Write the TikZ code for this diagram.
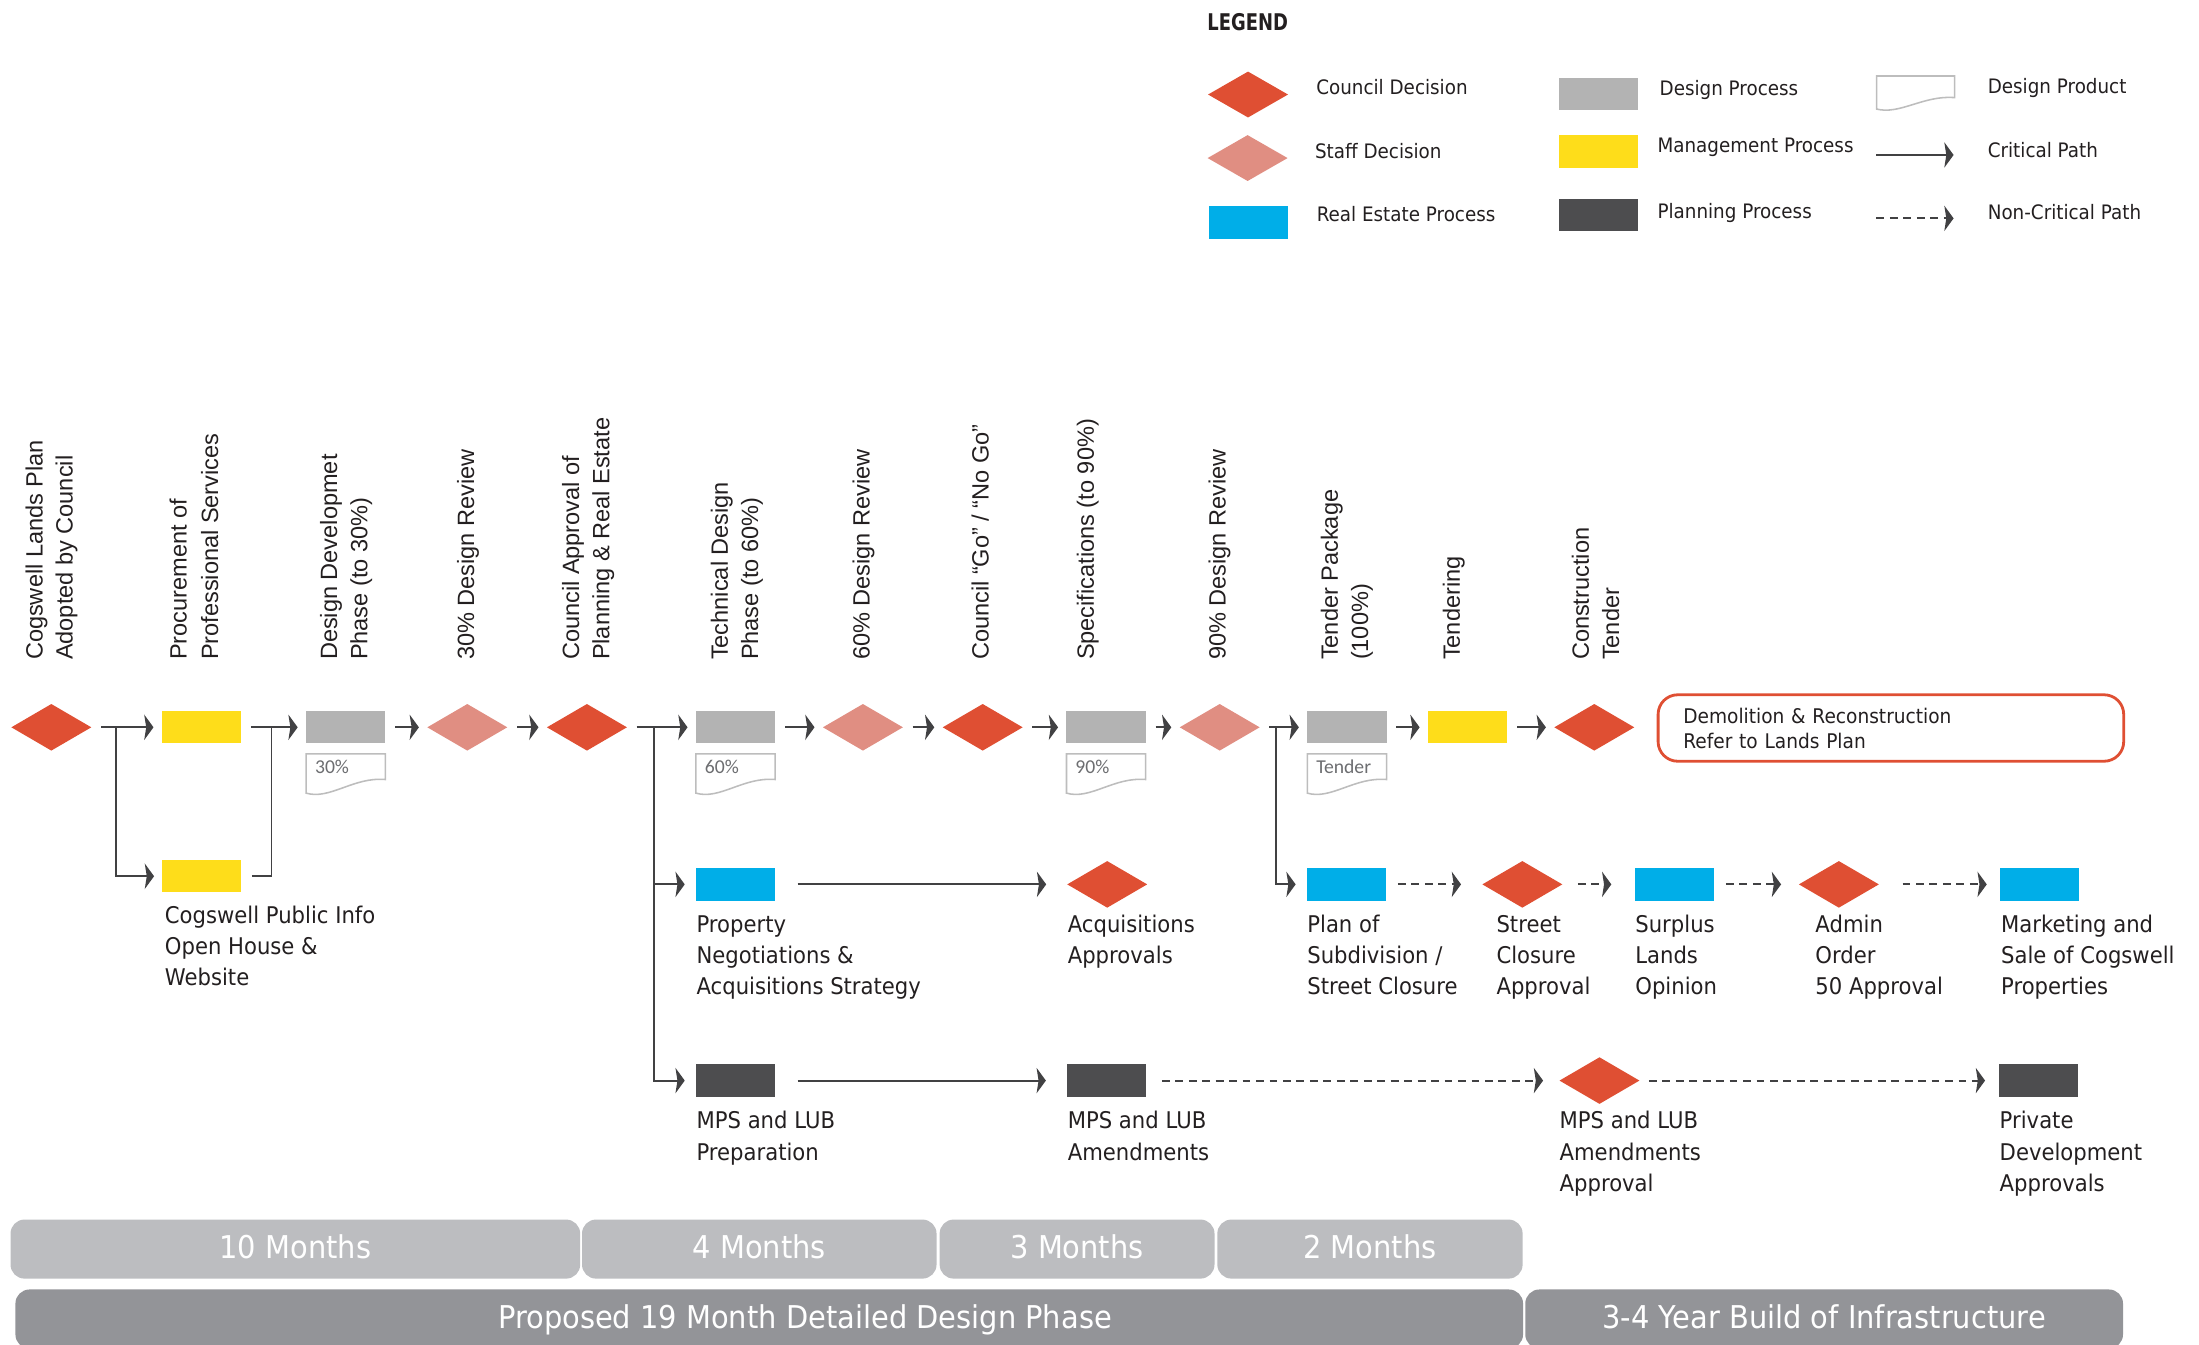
\documentclass[tikz,border=0pt]{standalone}
\usepackage{fontspec}
\setmainfont{Liberation Sans}
\newfontfamily\eurofont{DejaVu Sans}[FakeStretch=0.92]
\newfontfamily\legboldfont{DejaVu Sans}[FakeStretch=0.78]
\newfontfamily\docfont{Carlito}
\usetikzlibrary{shapes.geometric,arrows.meta,calc}
\definecolor{council}{HTML}{DF4F33}
\definecolor{staff}{HTML}{E08E82}
\definecolor{mgmt}{HTML}{FEDD1A}
\definecolor{design}{HTML}{B3B3B3}
\definecolor{realest}{HTML}{00AEE8}
\definecolor{planning}{HTML}{4D4D4F}
\definecolor{linec}{HTML}{414143}
\definecolor{doclinec}{HTML}{BDBDBD}
\definecolor{doctextc}{HTML}{6D6E71}
\definecolor{barlight}{HTML}{BCBDC0}
\definecolor{bardark}{HTML}{939498}
\definecolor{txt}{HTML}{231F20}
\tikzset{
 proc/.style={rectangle, minimum width=28.25pt, minimum height=11.5pt, inner sep=0pt, outer sep=0pt, draw=none},
 designbox/.style={proc, fill=design},
 mgmtbox/.style={proc, fill=mgmt},
 realbox/.style={proc, fill=realest},
 planbox/.style={proc, fill=planning},
 dec/.style={diamond, minimum width=28.5pt, minimum height=16.6pt, inner sep=0pt, outer sep=0pt, draw=none},
 councildec/.style={dec, fill=council},
 staffdec/.style={dec, fill=staff},
 conn/.style={draw=linec, line width=0.7pt},
 arr/.style={conn, -{Stealth[length=3.3pt,width=9pt,inset=0.7pt]}},
 dasharr/.style={arr, dash pattern=on 2.8pt off 2pt},
 gapped/.style={shorten <=3.5pt, shorten >=3pt},
 rotlab/.style={rotate=90, anchor=base west, inner sep=0pt, font=\fontsize{8.4}{10}\selectfont, text=txt},
 lab/.style={anchor=north west, inner sep=0pt, align=left, font=\eurofont\fontsize{8.2}{11.15}\selectfont, text=txt},
 leglab/.style={anchor=base west, inner sep=0pt, font=\eurofont\fontsize{7.1}{8}\selectfont, text=txt},
 docnode/.style={rectangle, minimum width=28.25pt, minimum height=14.7pt, inner sep=0pt, outer sep=0pt},
 doclab/.style={anchor=west, inner sep=0pt, font=\docfont\fontsize{7}{8}\selectfont, text=doctextc},
 doclinestyle/.style={draw=doclinec, line width=0.55pt, fill=white},
 bar/.style={rectangle, rounded corners=5pt, inner sep=0pt, minimum height=21.05pt, text=white, text height=6.6pt, text depth=0pt, font=\eurofont\fontsize{11.2}{13}\selectfont},
 lightbar/.style={bar, fill=barlight},
 darkbar/.style={bar, fill=bardark},
}
\newcommand\docoutline[3]{%
 \draw[doclinestyle] (#1.north west) -- (#1.north east) -- ([shift={(0,0.62*#3)}]#1.north east)
  .. controls ([shift={(-0.4*#2,0.55*#3)}]#1.north east) and ([shift={(0.3*#2,1.12*#3)}]#1.north west)
  .. ([shift={(0,0.95*#3)}]#1.north west) -- cycle;}
\begin{document}
\begin{tikzpicture}[x=0.5pt,y=-0.5pt]
\useasboundingbox (0,0) rectangle (1568,959);
\clip (0,0) rectangle (1568,959);

% ---------- Legend ----------
\node[anchor=base west, inner sep=0pt, font=\legboldfont\bfseries\fontsize{8.2}{10}\selectfont, text=txt] (legend) at (860.5,21.4) {LEGEND};
\node[councildec, minimum height=16.35pt] (lgc) at (889.9,67.4) {};
\node[staffdec, minimum height=16.35pt] (lgs) at (889.6,112.7) {};
\node[realbox, minimum height=11.6pt] (lgr) at (890.2,158.6) {};
\node[designbox] (lgd) at (1139.8,66.8) {};
\node[mgmtbox] (lgm) at (1139.8,108) {};
\node[planbox] (lgp) at (1139.8,153.5) {};
\node[docnode, minimum width=27.85pt, minimum height=12.4pt] (lgdoc) at (1365.9,66.6) {};
\docoutline{lgdoc}{55.7}{24.8}
\coordinate (lca) at (1338,110.5);
\coordinate (lcb) at (1393,110.5);
\draw[arr] (lca) -- (lcb);
\coordinate (lna) at (1338,155.7);
\coordinate (lnb) at (1393,155.7);
\draw[dasharr] (lna) -- (lnb);
\node[leglab] (lgct) at (938.2,67.3) {Council Decision};
\node[leglab] (lgst) at (937.3,112.9) {Staff Decision};
\node[leglab] (lgrt) at (938.5,158) {Real Estate Process};
\node[leglab] (lgdt) at (1183,68.2) {Design Process};
\node[leglab] (lgmt) at (1181.5,109) {Management Process};
\node[leglab] (lgpt) at (1181.5,155.6) {Planning Process};
\node[leglab] (lgdoct) at (1417,66.6) {Design Product};
\node[leglab] (lgcpt) at (1417,112.4) {Critical Path};
\node[leglab] (lgnpt) at (1417,156.4) {Non-Critical Path};

% ---------- Rotated step titles ----------
\node[rotlab] (t1a) at (30.4,471) {Cogswell Lands Plan};
\node[rotlab] (t1b) at (51.8,471) {Adopted by Council};
\node[rotlab] (t2a) at (133,471) {Procurement of};
\node[rotlab] (t2b) at (155.5,471) {Professional Services};
\node[rotlab] (t3a) at (240.3,471) {Design Developmet};
\node[rotlab] (t3b) at (262,471) {Phase (to 30\%)};
\node[rotlab] (t4) at (338,471) {30\% Design Review};
\node[rotlab] (t5a) at (413,471) {Council Approval of};
\node[rotlab] (t5b) at (434.5,471) {Planning \& Real Estate};
\node[rotlab] (t6a) at (519,471) {Technical Design};
\node[rotlab] (t6b) at (540.5,471) {Phase (to 60\%)};
\node[rotlab] (t7) at (620,471) {60\% Design Review};
\node[rotlab] (t8) at (705,471) {Council “Go” / “No Go”};
\node[rotlab] (t9) at (780,471) {Specifications (to 90\%)};
\node[rotlab] (t10) at (874,471) {90\% Design Review};
\node[rotlab] (t11a) at (954,471) {Tender Package};
\node[rotlab] (t11b) at (975.5,471) {(100\%)};
\node[rotlab] (t12) at (1041,471) {Tendering};
\node[rotlab] (t13a) at (1133,471) {Construction};
\node[rotlab] (t13b) at (1154.5,471) {Tender};

% ---------- Main row ----------
\node[councildec] (m1) at (36.6,518.6) {};
\node[mgmtbox] (m2) at (143.7,518.6) {};
\node[designbox] (m3) at (246.5,518.6) {};
\node[staffdec] (m4) at (333.2,518.6) {};
\node[councildec] (m5) at (418.5,518.6) {};
\node[designbox] (m6) at (524.5,518.6) {};
\node[staffdec] (m7) at (615.3,518.6) {};
\node[councildec] (m8) at (700.7,518.6) {};
\node[designbox] (m9) at (788.7,518.6) {};
\node[staffdec] (m10) at (869.7,518.6) {};
\node[designbox] (m11) at (960.4,518.6) {};
\node[mgmtbox] (m12) at (1046.5,518.6) {};
\node[councildec] (m13) at (1136.8,518.6) {};
\node[draw=council, line width=1pt, rounded corners=7pt, minimum width=166pt, minimum height=23.7pt,
      text width=148pt, inner xsep=9pt, inner ysep=0pt, align=left,
      font=\eurofont\fontsize{7.2}{8.9}\selectfont, text=txt] (demo) at (1348.3,519.1)
      {Demolition \& Reconstruction\\Refer to Lands Plan};

% design products
\node[docnode] (d3) at (246.5,552.3) {};
\node[docnode] (d6) at (524.5,552.3) {};
\node[docnode] (d9) at (788.7,552.3) {};
\node[docnode] (d11) at (960.4,552.3) {};
\docoutline{d3}{56.5}{29.4}
\docoutline{d6}{56.5}{29.4}
\docoutline{d9}{56.5}{29.4}
\docoutline{d11}{56.5}{29.4}
\node[doclab] (d3t) at ([xshift=3pt,yshift=-4.7pt]d3.north west) {30\%};
\node[doclab] (d6t) at ([xshift=3pt,yshift=-4.7pt]d6.north west) {60\%};
\node[doclab] (d9t) at ([xshift=3pt,yshift=-4.7pt]d9.north west) {90\%};
\node[doclab] (d11t) at ([xshift=3pt,yshift=-4.7pt]d11.north west) {Tender};

% main connectors
\draw[arr, gapped] (m1) -- (m2);
\draw[arr, gapped] (m2) -- (m3);
\draw[arr, gapped] (m3) -- (m4);
\draw[arr, gapped] (m4) -- (m5);
\draw[arr, gapped] (m5) -- (m6);
\draw[arr, gapped] (m6) -- (m7);
\draw[arr, gapped] (m7) -- (m8);
\draw[arr, gapped] (m8) -- (m9);
\draw[arr, gapped] (m9) -- (m10);
\draw[arr, gapped] (m10) -- (m11);
\draw[arr, gapped] (m11) -- (m12);
\draw[arr, gapped] (m12) -- (m13);

% ---------- Branches ----------
\coordinate (b1) at (82.5,518.6);
\coordinate (b2) at (193.6,518.6);
\coordinate (b3) at (466.2,518.6);
\coordinate (b4) at (909.5,518.6);

\node[mgmtbox] (y2) at (143.7,624.8) {};
\draw[arr, shorten >=2.8pt] (b1) |- (y2);
\draw[conn, shorten <=3.8pt] (y2) -| (b2);
\node[lab] (y2l) at (117.2,644) {\rule{0pt}{7pt}Cogswell Public Info\\Open House \&\\Website};

% Row 2
\node[realbox] (r1) at (524.5,630.6) {};
\node[councildec] (a1) at (789.5,630.6) {};
\node[realbox] (r2) at (960.1,630.6) {};
\node[councildec] (a2) at (1085.5,630.6) {};
\node[realbox] (r3) at (1194,630.6) {};
\node[councildec] (a4) at (1311.2,630.6) {};
\node[realbox] (r4) at (1454.3,630.6) {};

% Row 3
\node[planbox] (p1) at (524.5,770.5) {};
\node[planbox] (p2) at (789,770.5) {};
\node[councildec] (a3) at (1140.5,770.5) {};
\node[planbox] (p3) at (1453.5,770.5) {};

\draw[arr, shorten >=4pt] (b3) |- (r1);
\draw[arr, shorten >=4pt] (b3) |- (p1);
\draw[arr, shorten >=4pt] (b4) |- (r2);

\draw[arr, shorten <=8pt, shorten >=7.5pt] (r1) -- (a1);
\draw[arr, shorten <=8pt, shorten >=7.5pt] (p1) -- (p2);
\draw[dasharr, shorten <=5.6pt, shorten >=5.85pt] (p2) -- (a3);
\draw[dasharr, shorten <=3.35pt, shorten >=4.9pt] (a3) -- (p3);
\draw[dasharr, shorten <=4.2pt, shorten >=7.6pt] (r2) -- (a2);
\draw[dasharr, shorten <=5.5pt, shorten >=8.4pt] (a2) -- (r3);
\draw[dasharr, shorten <=4.2pt, shorten >=6.35pt] (r3) -- (a4);
\draw[dasharr, shorten <=8.45pt, shorten >=4.7pt] (a4) -- (r4);

% labels
\node[lab] (r1l) at (496.3,650.3) {\rule{0pt}{7pt}Property\\Negotiations \&\\Acquisitions Strategy};
\node[lab] (a1l) at (761,650.3) {\rule{0pt}{7pt}Acquisitions\\Approvals};
\node[lab] (r2l) at (931.8,650.3) {\rule{0pt}{7pt}Plan of\\Subdivision /\\Street Closure};
\node[lab] (a2l) at (1066.7,650.3) {\rule{0pt}{7pt}Street\\Closure\\Approval};
\node[lab] (r3l) at (1165.7,650.3) {\rule{0pt}{7pt}Surplus\\Lands\\Opinion};
\node[lab] (a4l) at (1294.1,650.3) {\rule{0pt}{7pt}Admin\\Order\\50 Approval};
\node[lab] (r4l) at (1426.5,650.3) {\rule{0pt}{7pt}Marketing and\\Sale of Cogswell\\Properties};
\node[lab] (p1l) at (496.3,790.6) {\rule{0pt}{7pt}MPS and LUB\\Preparation};
\node[lab] (p2l) at (761,790.6) {\rule{0pt}{7pt}MPS and LUB\\Amendments};
\node[lab] (a3l) at (1111.7,790.6) {\rule{0pt}{7pt}MPS and LUB\\Amendments\\Approval};
\node[lab] (p3l) at (1425.5,790.6) {\rule{0pt}{7pt}Private\\Development\\Approvals};

% ---------- Time bars ----------
\node[lightbar, minimum width=203.1pt] (bar10) at (210.6,890.65) {10 Months};
\node[lightbar, minimum width=126.4pt] (bar4) at (541.4,890.65) {4 Months};
\node[lightbar, minimum width=98pt] (bar3) at (768,890.65) {3 Months};
\node[lightbar, minimum width=108.85pt] (bar2) at (976.85,890.65) {2 Months};
\node[darkbar, minimum width=537.5pt] (barp) at (548.5,940.5) {};
\node[bar] (barpt) at (574,940.5) {Proposed 19 Month Detailed Design Phase};
\node[darkbar, minimum width=213.1pt] (bar34) at (1300.7,940.5) {3-4 Year Build of Infrastructure};
\end{tikzpicture}
\end{document}
